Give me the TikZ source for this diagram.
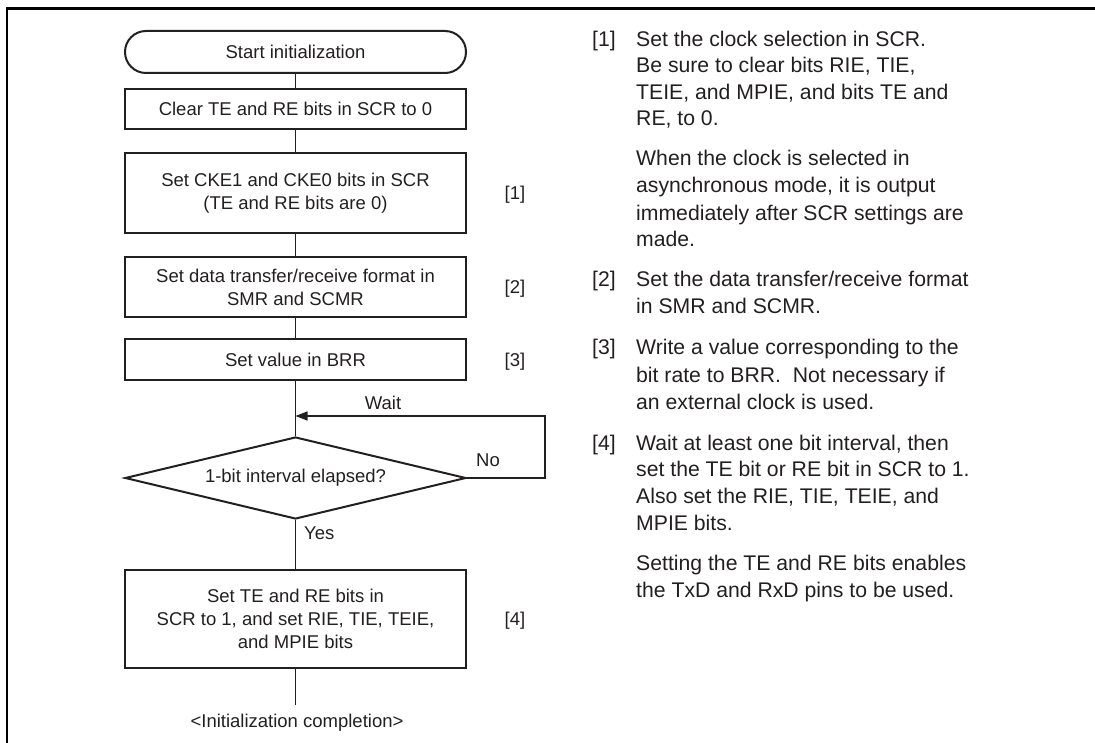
\documentclass[tikz,border=0pt]{standalone}
\usepackage{fontspec}
\setmainfont{Liberation Sans}
\usetikzlibrary{shapes.geometric,arrows.meta}
\definecolor{ink}{RGB}{35,31,32}
\begin{document}
\begin{tikzpicture}[x=1pt,y=-1pt,
  boxtxt/.style={font=\fontsize{18.5}{23}\selectfont, text=ink},
  rtxt/.style={font=\fontsize{21.2}{26.5}\selectfont, text=ink, anchor=base west, inner sep=0pt},
  lbl/.style={boxtxt, anchor=base, inner sep=0pt},
  procbox/.style={draw=ink, line width=2pt, minimum width=341pt, inner sep=0pt, align=center, boxtxt},
  terminal/.style={procbox, rounded corners=21pt, minimum height=42pt},
  decision/.style={diamond, draw=ink, line width=2pt, minimum width=341pt, minimum height=82pt,
    shape aspect=4.16, inner sep=0pt, boxtxt},
  conn/.style={draw=ink, line width=1.2pt},
  arr/.style={conn, -{Triangle[length=12pt,width=9pt]}}]
\useasboundingbox (0,0) rectangle (1095,743);
% frame
\draw[line width=2.6pt, black] (1095,8.5) -- (7,8.5) -- (7,743);
% flowchart
\node[terminal] (start) at (295.5,52) {Start initialization};
\node[procbox, minimum height=40pt] (clr) at (295.5,109) {Clear TE and RE bits in SCR to 0};
\node[procbox, minimum height=80pt] (cke) at (295.5,193) {Set CKE1 and CKE0 bits in SCR\\(TE and RE bits are 0)};
\node[procbox, minimum height=60pt] (fmt) at (295.5,287) {Set data transfer/receive format in\\SMR and SCMR};
\node[procbox, minimum height=41pt] (brr) at (295.5,359.5) {Set value in BRR};
\node[decision] (dec) at (295.5,478) {1-bit interval elapsed?};
\node[procbox, minimum height=98pt] (fin) at (295.5,619) {Set TE and RE bits in\\SCR to 1, and set RIE, TIE, TEIE,\\and MPIE bits};
\node[boxtxt, anchor=base] (done) at (297,727) {<Initialization completion>};
\coordinate (join) at (295.5,416);
\coordinate (loopc) at (545,416);
\coordinate (endl) at (295.5,705);
\draw[conn] (start.south) -- (clr.north);
\draw[conn] (clr.south) -- (cke.north);
\draw[conn] (cke.south) -- (fmt.north);
\draw[conn] (fmt.south) -- (brr.north);
\draw[conn] (brr.south) -- (dec.north);
\draw[conn] (dec.south) -- (fin.north);
\draw[conn] (fin.south) -- (endl);
\draw[arr] (dec.east) -| (loopc) -- (join);
% flowchart labels
\node[lbl] (wait) at (383,409.6) {Wait};
\node[lbl] (no) at (488,466.6) {No};
\node[lbl, anchor=base west] (yes) at (304,539.6) {Yes};
\node[lbl] (n1) at (515,199.6) {[1]};
\node[lbl] (n2) at (515,293.6) {[2]};
\node[lbl] (n3) at (515,366) {[3]};
\node[lbl] (n4) at (515,625.6) {[4]};
% right column
\node[rtxt] (k1) at (592,46.6) {[1]};
\node[rtxt] (k2) at (592,286.6) {[2]};
\node[rtxt] (k3) at (592,354.6) {[3]};
\node[rtxt] (k4) at (592,450.6) {[4]};
\foreach \yy/\tt [count=\i] in {
  46.6/{Set the clock selection in SCR.},
  72.6/{Be sure to clear bits RIE, TIE,},
  99.6/{TEIE, and MPIE, and bits TE and},
  125.6/{RE, to 0.},
  165.6/{When the clock is selected in},
  192.6/{asynchronous mode, it is output},
  220.6/{immediately after SCR settings are},
  246.6/{made.},
  286.6/{Set the data transfer/receive format},
  313.6/{in SMR and SCMR.},
  354.6/{Write a value corresponding to the},
  382.6/{bit rate to BRR.\ \ Not necessary if},
  409.6/{an external clock is used.},
  450.6/{Wait at least one bit interval, then},
  476.6/{set the TE bit or RE bit in SCR to 1.},
  503.6/{Also set the RIE, TIE, TEIE, and},
  530.6/{MPIE bits.},
  570.6/{Setting the TE and RE bits enables},
  597.6/{the TxD and RxD pins to be used.}}
  \node[rtxt] (rl\i) at (636,\yy) {\tt};
\end{tikzpicture}
\end{document}
